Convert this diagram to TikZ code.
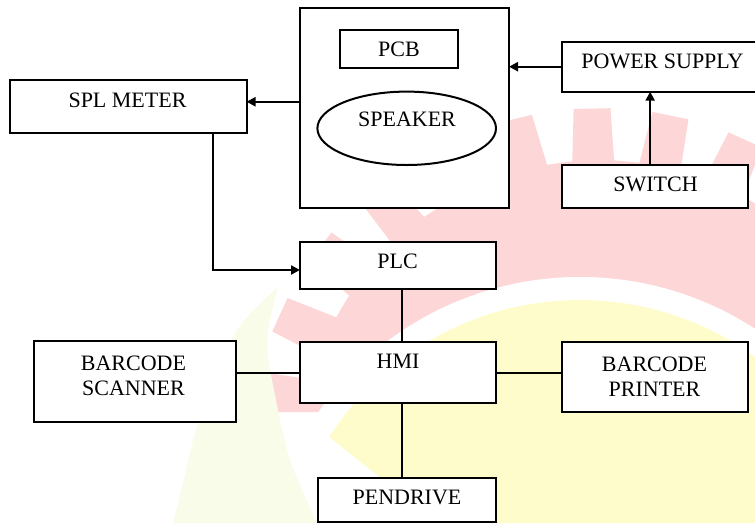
\documentclass[tikz,border=0pt]{standalone}
\usepackage{fontspec}
\setmainfont{Liberation Serif}
\usetikzlibrary{arrows.meta,shapes.geometric}
\definecolor{wmred}{RGB}{253,215,216}
\definecolor{wmyel}{RGB}{255,252,204}
\definecolor{wmgrn}{RGB}{248,252,232}
\begin{document}
\begin{tikzpicture}[x=1pt,y=-1pt,
  box/.style={draw, fill=white, line width=2pt, inner sep=0pt, outer sep=0pt},
  txt/.style={inner sep=0pt, font=\fontsize{22}{25}\selectfont, align=center},
  arr/.style={line width=2.2pt, -{Triangle[length=9pt,width=9pt]}},
  conn/.style={line width=2pt}]
\useasboundingbox (0,0) rectangle (755,523);
% watermark
\begin{scope}
\clip (0,0) -- (755,0) -- (755,523) -- (330,523) -- (330,412) -- (0,412) -- cycle;
\fill[wmred] ({600+300*cos(-95.3)},{460+300*sin(-95.3)})
  \foreach \k in {0,...,27}{
    -- ({600+300*cos(-95.3+\k*12.857)},{460+300*sin(-95.3+\k*12.857)})
    -- ({600+352*cos(-94.3+\k*12.857)},{460+352*sin(-94.3+\k*12.857)})
    -- ({600+352*cos(-88.3+\k*12.857)},{460+352*sin(-88.3+\k*12.857)})
    -- ({600+300*cos(-87.3+\k*12.857)},{460+300*sin(-87.3+\k*12.857)})
  } -- cycle;
\end{scope}
\fill[white] (580,598) circle (321);
\begin{scope}
\clip (0,0) -- (755,0) -- (755,523) -- (437,523) -- (283,400) -- (0,400) -- cycle;
\fill[wmyel] (580,598) circle (298);
\end{scope}
\fill[wmgrn] plot[smooth] coordinates {(278,287) (235,333) (200,417) (183,483) (173,523)}
  -- plot[smooth] coordinates {(317,523) (290,460) (274,390) (267,340) (278,287)} -- cycle;
% boxes
\node[box, minimum width=209pt, minimum height=199.5pt] (encl) at (404.5,107.75) {};
\node[box, minimum width=118.5pt, minimum height=38pt] (pcbbox) at (398.75,48.5) {};
\node[box, ellipse, minimum width=178.6pt, minimum height=73.4pt] (spk) at (406.7,128.3) {};
\node[box, minimum width=237pt, minimum height=53.8pt] (spl) at (128,106.4) {};
\node[box, minimum width=196pt, minimum height=50pt] (pwr) at (660,66.7) {};
\node[box, minimum width=186.3pt, minimum height=42.7pt] (sw) at (655.15,186.35) {};
\node[box, minimum width=196pt, minimum height=47.6pt] (plc) at (398,265.5) {};
\node[box, minimum width=196pt, minimum height=61.6pt] (hmi) at (398,372.5) {};
\node[box, minimum width=202.3pt, minimum height=80.7pt] (scan) at (134.85,381.35) {};
\node[box, minimum width=186pt, minimum height=70.2pt] (prn) at (655,376.6) {};
\node[box, minimum width=178.3pt, minimum height=44pt] (pen) at (406.85,499.7) {};
% texts
\node[txt] (tpcb) at (399,49) {PCB};
\node[txt] (tspk) at (407,119) {SPEAKER};
\node[txt] (tspl) at (127.5,100) {SPL METER};
\node[txt] (tpwr) at (662.5,61.5) {POWER SUPPLY};
\node[txt] (tsw) at (655.5,184.7) {SWITCH};
\node[txt] (tplc) at (397.5,261) {PLC};
\node[txt] (thmi) at (398,361) {HMI};
\node[txt] (tscan) at (133.5,376) {BARCODE\\SCANNER};
\node[txt] (tprn) at (654.5,377) {BARCODE\\PRINTER};
\node[txt] (tpen) at (407,497) {PENDRIVE};
% connectors
\draw[arr] ([yshift=6pt]encl.west) -- ([yshift=6pt]encl.west -| spl.east);
\draw[arr] (pwr.west) -- (pwr.west -| encl.east);
\draw[arr] ([xshift=-5pt]sw.north) -- ([xshift=-5pt]sw.north |- pwr.south);
\draw[arr] ([xshift=84.7pt]spl.south) |- ([yshift=-4.5pt]plc.west);
\draw[conn] ([xshift=4pt]plc.south) -- ([xshift=4pt]plc.south |- hmi.north);
\draw[conn] (hmi.west) -- (hmi.west -| scan.east);
\draw[conn] (hmi.east) -- (hmi.east -| prn.west);
\draw[conn] ([xshift=4pt]hmi.south) -- ([xshift=4pt]hmi.south |- pen.north);
\end{tikzpicture}
\end{document}
